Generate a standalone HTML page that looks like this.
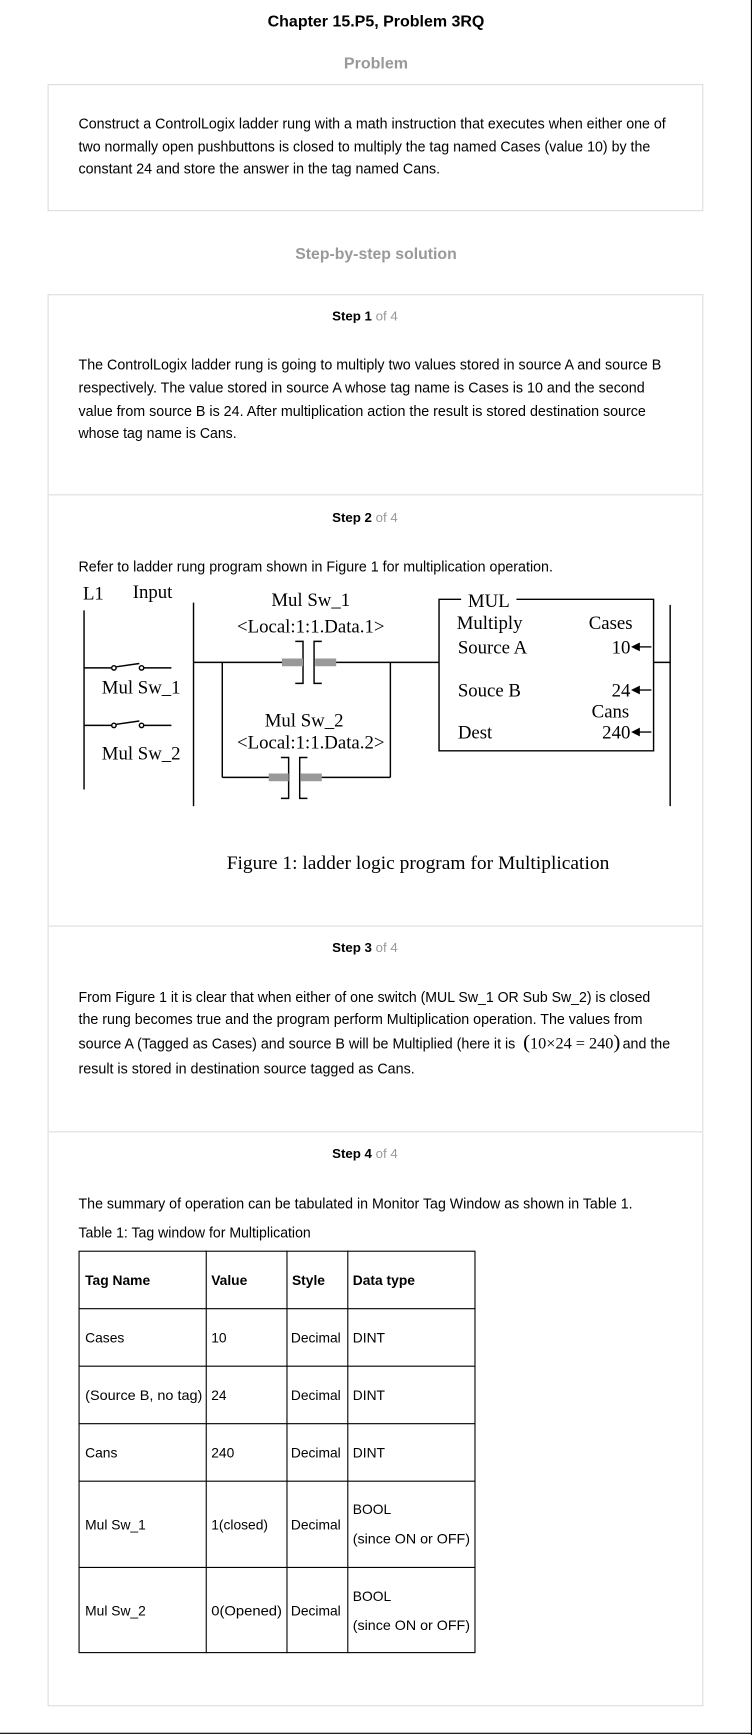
<!DOCTYPE html>
<html><head><meta charset="utf-8"><style>
html,body{margin:0;padding:0;background:#fff;}
svg{display:block;}
.s{font-family:"Liberation Sans",Arial,sans-serif;}
.t{font-family:"Liberation Serif","Times New Roman",serif;}
</style></head><body>
<svg width="752" height="1735" viewBox="0 0 680 1569" preserveAspectRatio="none" xmlns="http://www.w3.org/2000/svg">
<rect x="0" y="0" width="680" height="1569" fill="#fff"/>
<line x1="679.5" y1="0" x2="679.5" y2="1569" stroke="#000" stroke-width="1"/>
<line x1="0" y1="1567.5" x2="680" y2="1567.5" stroke="#000" stroke-width="1"/>
<g class="s">
<text x="340" y="24" font-size="14" font-weight="bold" text-anchor="middle" textLength="196" lengthAdjust="spacingAndGlyphs">Chapter 15.P5, Problem 3RQ</text>
<text x="340" y="62" font-size="14" font-weight="bold" fill="#999" text-anchor="middle" textLength="58" lengthAdjust="spacingAndGlyphs">Problem</text>
<rect x="43.5" y="76.5" width="592" height="114" fill="none" stroke="#ddd"/>
<g font-size="13">
<text x="71" y="116" textLength="531" lengthAdjust="spacingAndGlyphs">Construct a ControlLogix ladder rung with a math instruction that executes when either one of</text>
<text x="71" y="137" textLength="517" lengthAdjust="spacingAndGlyphs">two normally open pushbuttons is closed to multiply the tag named Cases (value 10) by the</text>
<text x="71" y="157" textLength="327" lengthAdjust="spacingAndGlyphs">constant 24 and store the answer in the tag named Cans.</text>
</g>
<text x="340" y="234" font-size="14" font-weight="bold" fill="#999" text-anchor="middle" textLength="146" lengthAdjust="spacingAndGlyphs">Step-by-step solution</text>
<rect x="43.5" y="266.5" width="592" height="1276" fill="none" stroke="#ddd"/>
<line x1="44" y1="447.5" x2="635" y2="447.5" stroke="#ddd"/>
<line x1="44" y1="837.5" x2="635" y2="837.5" stroke="#ddd"/>
<line x1="44" y1="1023.5" x2="635" y2="1023.5" stroke="#ddd"/>
<g font-size="12" text-anchor="middle">
<text x="330" y="290"><tspan font-weight="bold">Step 1</tspan><tspan fill="#999"> of 4</tspan></text>
<text x="330" y="472"><tspan font-weight="bold">Step 2</tspan><tspan fill="#999"> of 4</tspan></text>
<text x="330" y="861"><tspan font-weight="bold">Step 3</tspan><tspan fill="#999"> of 4</tspan></text>
<text x="330" y="1047"><tspan font-weight="bold">Step 4</tspan><tspan fill="#999"> of 4</tspan></text>
</g>
<g font-size="13">
<text x="71" y="334" textLength="527" lengthAdjust="spacingAndGlyphs">The ControlLogix ladder rung is going to multiply two values stored in source A and source B</text>
<text x="71" y="355" textLength="512" lengthAdjust="spacingAndGlyphs">respectively. The value stored in source A whose tag name is Cases is 10 and the second</text>
<text x="71" y="376" textLength="513" lengthAdjust="spacingAndGlyphs">value from source B is 24. After multiplication action the result is stored destination source</text>
<text x="71" y="396" textLength="143" lengthAdjust="spacingAndGlyphs">whose tag name is Cans.</text>
<text x="71" y="517" textLength="429" lengthAdjust="spacingAndGlyphs">Refer to ladder rung program shown in Figure 1 for multiplication operation.</text>
<text x="71" y="906" textLength="517" lengthAdjust="spacingAndGlyphs">From Figure 1 it is clear that when either of one switch (MUL Sw_1 OR Sub Sw_2) is closed</text>
<text x="71" y="926" textLength="510" lengthAdjust="spacingAndGlyphs">the rung becomes true and the program perform Multiplication operation. The values from</text>
<text x="71" y="948" textLength="395" lengthAdjust="spacingAndGlyphs">source A (Tagged as Cases) and source B will be Multiplied (here it is</text>
<text x="563" y="948" textLength="43" lengthAdjust="spacingAndGlyphs">and the</text>
<text x="71" y="971" textLength="304" lengthAdjust="spacingAndGlyphs">result is stored in destination source tagged as Cans.</text>
<text x="71" y="1093" textLength="501" lengthAdjust="spacingAndGlyphs">The summary of operation can be tabulated in Monitor Tag Window as shown in Table 1.</text>
<text x="71" y="1119" textLength="210" lengthAdjust="spacingAndGlyphs">Table 1: Tag window for Multiplication</text>
</g>
</g>
<text class="t" x="473" y="948" font-size="14" textLength="88" lengthAdjust="spacingAndGlyphs"><tspan font-size="18">(</tspan>10×24 = 240<tspan font-size="18">)</tspan></text>

<!-- Table -->
<g stroke="#000" stroke-width="1" fill="none">
<rect x="71.5" y="1131.5" width="358" height="363"/>
<line x1="186.5" y1="1131" x2="186.5" y2="1495"/>
<line x1="259.5" y1="1131" x2="259.5" y2="1495"/>
<line x1="314.5" y1="1131" x2="314.5" y2="1495"/>
<line x1="71" y1="1183.5" x2="430" y2="1183.5"/>
<line x1="71" y1="1235.5" x2="430" y2="1235.5"/>
<line x1="71" y1="1287.5" x2="430" y2="1287.5"/>
<line x1="71" y1="1339.5" x2="430" y2="1339.5"/>
<line x1="71" y1="1417.5" x2="430" y2="1417.5"/>
</g>
<g class="s" font-size="12.5">
<g font-weight="bold"><text x="77" y="1162">Tag Name</text><text x="191" y="1162">Value</text><text x="264" y="1162">Style</text><text x="319" y="1162">Data type</text></g>
<text x="77" y="1214">Cases</text><text x="191" y="1214">10</text><text x="263" y="1214">Decimal</text><text x="319" y="1214">DINT</text>
<text x="77" y="1266" textLength="106" lengthAdjust="spacingAndGlyphs">(Source B, no tag)</text><text x="191" y="1266">24</text><text x="263" y="1266">Decimal</text><text x="319" y="1266">DINT</text>
<text x="77" y="1318">Cans</text><text x="191" y="1318">240</text><text x="263" y="1318">Decimal</text><text x="319" y="1318">DINT</text>
<text x="77" y="1383">Mul Sw_1</text><text x="191" y="1383">1(closed)</text><text x="263" y="1383">Decimal</text><text x="319" y="1369">BOOL</text><text x="319" y="1396" textLength="106" lengthAdjust="spacingAndGlyphs">(since ON or OFF)</text>
<text x="77" y="1461">Mul Sw_2</text><text x="191" y="1461" textLength="64" lengthAdjust="spacingAndGlyphs">0(Opened)</text><text x="263" y="1461">Decimal</text><text x="319" y="1448">BOOL</text><text x="319" y="1474" textLength="106" lengthAdjust="spacingAndGlyphs">(since ON or OFF)</text>
</g>

<!-- Ladder diagram -->
<g stroke="#000" stroke-width="1.3" fill="none">
<line x1="76" y1="552" x2="76" y2="714"/>
<line x1="175" y1="545" x2="175" y2="729"/>
<line x1="606" y1="547" x2="606" y2="729"/>
<line x1="76" y1="604" x2="101" y2="604"/><circle cx="103" cy="604" r="2" fill="#fff"/><line x1="105" y1="603" x2="126" y2="600"/><circle cx="128" cy="604" r="2" fill="#fff"/><line x1="130" y1="604" x2="155" y2="604"/>
<line x1="76" y1="656" x2="101" y2="656"/><circle cx="103" cy="656" r="2" fill="#fff"/><line x1="105" y1="655" x2="126" y2="652"/><circle cx="128" cy="656" r="2" fill="#fff"/><line x1="130" y1="656" x2="155" y2="656"/>
<line x1="175" y1="599" x2="397" y2="599"/>
<line x1="201" y1="599" x2="201" y2="703"/>
<line x1="353" y1="599" x2="353" y2="703"/>
<line x1="201" y1="703" x2="353" y2="703"/>
<line x1="591" y1="599" x2="606" y2="599"/>
<rect x="266" y="590" width="22" height="18" fill="#fff" stroke="none"/>
<polyline points="267,580 274,580 274,618 267,618"/>
<polyline points="291,580 284,580 284,618 291,618"/>
<rect x="254" y="694" width="22" height="18" fill="#fff" stroke="none"/>
<polyline points="254,685 261,685 261,722 254,722"/>
<polyline points="278,685 271,685 271,722 278,722"/>
<polyline points="417,542 397,542 397,679 591,679 591,542 467,542"/>
</g>
<g fill="#999">
<rect x="255" y="595.5" width="19" height="7"/><rect x="285" y="595.5" width="19" height="7"/>
<rect x="243" y="699.5" width="18" height="7"/><rect x="272" y="699.5" width="19" height="7"/>
</g>
<g class="t" font-size="17" fill="#000">
<text x="75" y="542">L1</text>
<text x="120" y="541">Input</text>
<text x="92" y="627">Mul Sw_1</text>
<text x="92" y="687">Mul Sw_2</text>
<text x="281" y="548" text-anchor="middle">Mul Sw_1</text>
<text x="281" y="572" text-anchor="middle">&lt;Local:1:1.Data.1&gt;</text>
<text x="275" y="657" text-anchor="middle">Mul Sw_2</text>
<text x="281" y="677" text-anchor="middle">&lt;Local:1:1.Data.2&gt;</text>
<text x="442" y="549" text-anchor="middle">MUL</text>
<text x="413" y="569">Multiply</text>
<text x="414" y="591">Source A</text>
<text x="414" y="630">Souce B</text>
<text x="414" y="668">Dest</text>
<text x="572" y="569" text-anchor="end">Cases</text>
<text x="570" y="591" text-anchor="end">10</text>
<text x="570" y="630" text-anchor="end">24</text>
<text x="569" y="649" text-anchor="end">Cans</text>
<text x="570" y="668" text-anchor="end">240</text>
<text x="205" y="786" textLength="346" lengthAdjust="spacingAndGlyphs">Figure 1: ladder logic program for Multiplication</text>
</g>
<g stroke="#000" stroke-width="1.2" fill="#000">
<line x1="575" y1="585" x2="589" y2="585"/><polygon points="572,585 578,582 578,588"/>
<line x1="575" y1="624" x2="589" y2="624"/><polygon points="572,624 578,621 578,627"/>
<line x1="575" y1="662" x2="589" y2="662"/><polygon points="572,662 578,659 578,665"/>
</g>
</svg>
</body></html>
